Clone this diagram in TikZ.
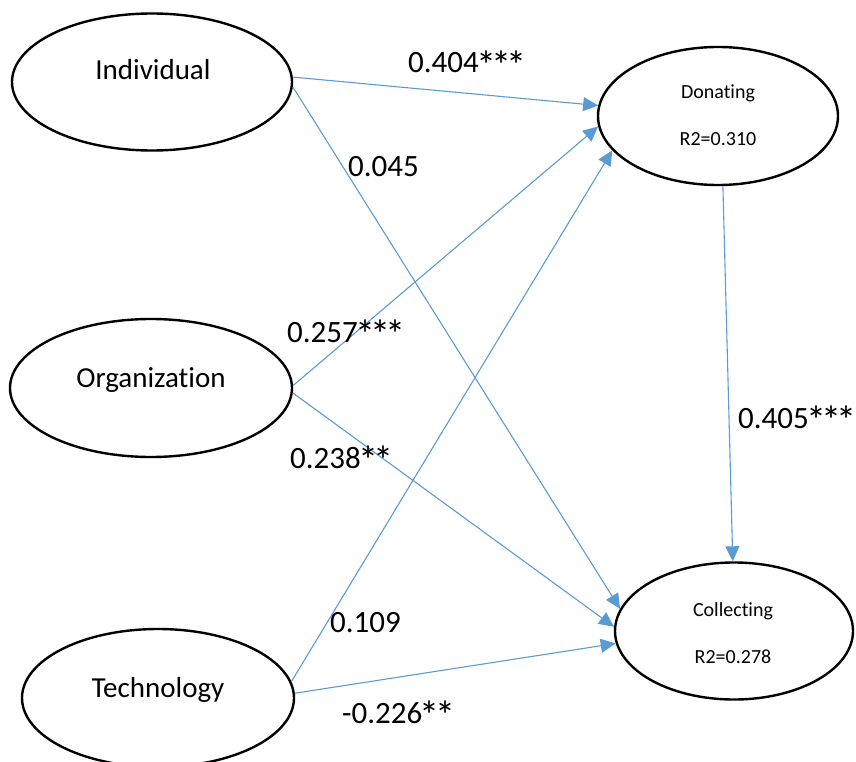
\documentclass[tikz,border=0pt]{standalone}
\usepackage{fontspec}
\setmainfont[Ligatures=NoCommon]{Carlito}
\usetikzlibrary{shapes.geometric,arrows.meta}
\definecolor{arrblue}{RGB}{91,155,213}
\newcommand{\bigstar}{\makebox[0.49em]{\raisebox{-0.21em}{\scalebox{1.3}{*}}}}
\begin{document}
\begin{tikzpicture}[x=1pt,y=-1pt,
  latent/.style={draw=black,line width=2.4pt,ellipse,inner sep=0pt},
  path/.style={draw=arrblue,line width=1.1pt,-{Triangle[length=15pt,width=14pt]}},
  bigtxt/.style={inner sep=0pt,anchor=base,font=\fontsize{29}{34}\selectfont},
  smalltxt/.style={inner sep=0pt,anchor=base,font=\fontsize{20}{24}\selectfont},
  coef/.style={inner sep=0pt,anchor=base west,font=\fontsize{31}{36}\selectfont}]
\useasboundingbox (0,0) rectangle (856,762);
% ellipses
\node[latent,minimum width=280pt,minimum height=137pt] (ind) at (152,82) {};
\node[latent,minimum width=282pt,minimum height=138pt] (org) at (151,388) {};
\node[latent,minimum width=272pt,minimum height=138pt] (tec) at (158,698) {};
\node[latent,minimum width=240pt,minimum height=138pt] (don) at (718,116) {};
\node[latent,minimum width=238pt,minimum height=137pt] (col) at (734,631) {};
% node texts
\node[bigtxt] (tind) at (153,80) {Individual};
\node[bigtxt] (torg) at (151,387) {Organization};
\node[bigtxt] (ttec) at (158,697) {Technology};
\node[smalltxt] (tdon) at (718,99) {Donating};
\node[smalltxt] (rdon) at (718,146) {R2=0.310};
\node[smalltxt] (tcol) at (733,616) {Collecting};
\node[smalltxt] (rcol) at (733,663) {R2=0.278};
% paths
\draw[path] (ind.2) -- (don.175.7);
\draw[path] (ind.-2) -- (col.169.7);
\draw[path] (org.1) -- (don.185.7);
\draw[path] (org.-2) -- (col.178);
\draw[path] (tec.7.8) -- (don.198);
\draw[path] (tec.2.5) -- (col.186.7);
\draw[path] (don.-86) -- (col.91.7);
% coefficients
\node[coef] (c1) at (408,73) {0.404\bigstar\bigstar\bigstar};
\node[coef] (c2) at (348,177) {0.045};
\node[coef] (c3) at (287,342) {0.257\bigstar\bigstar\bigstar};
\node[coef] (c4) at (290,468) {0.238\bigstar\bigstar};
\node[coef] (c5) at (738,428) {0.405\bigstar\bigstar\bigstar};
\node[coef] (c6) at (330,632) {0.109};
\node[coef] (c7) at (342,723) {-0.226\bigstar\bigstar};
\end{tikzpicture}
\end{document}
